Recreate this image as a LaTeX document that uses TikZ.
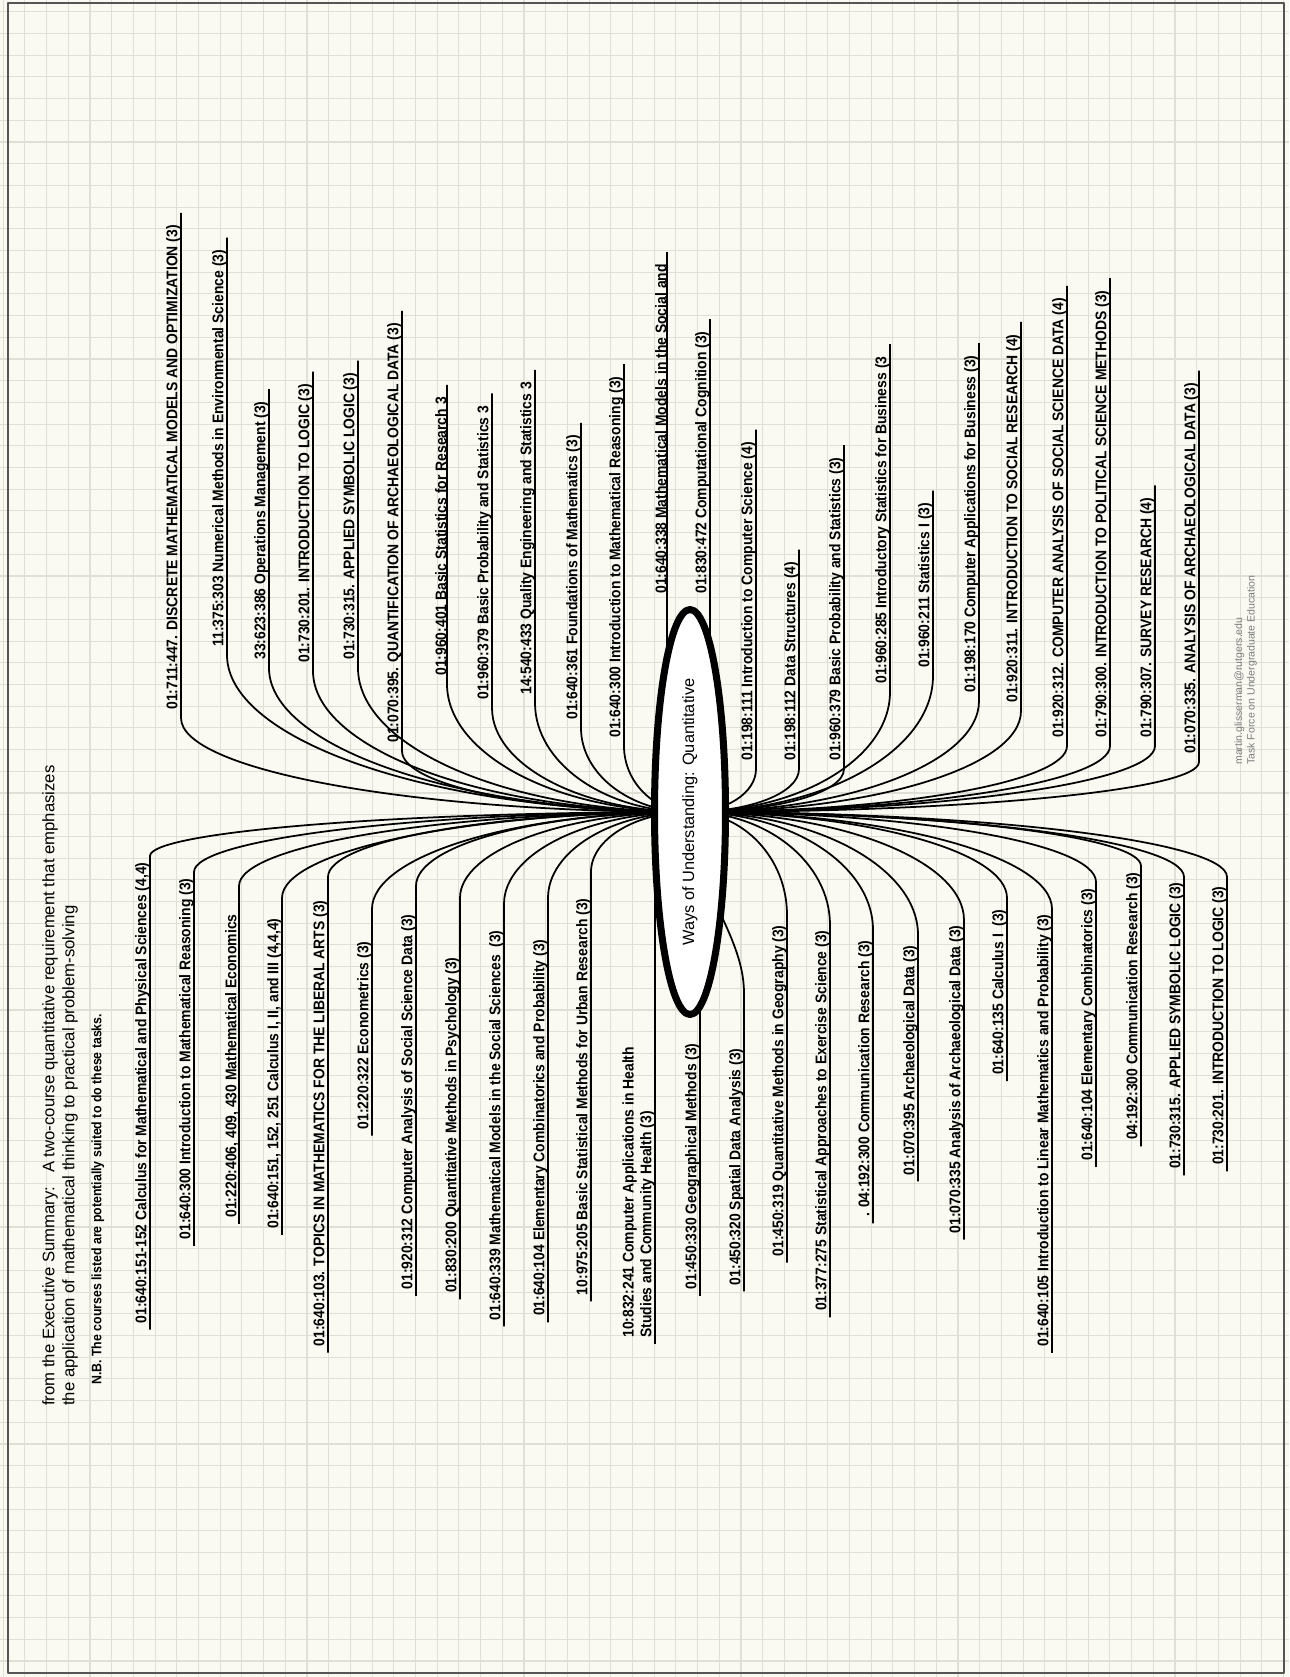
\documentclass[tikz,border=0pt]{standalone}
\usepackage{fontspec}
\setmainfont{Liberation Sans}
\newfontfamily\coursefont[FakeStretch=0.9]{Liberation Sans}
\usetikzlibrary{shapes.geometric,calc,backgrounds}
\definecolor{paper}{RGB}{250,250,242}
\definecolor{gridgray}{RGB}{222,224,214}
\definecolor{framegray}{RGB}{85,85,85}
\definecolor{creditgray}{RGB}{125,125,125}
\tikzset{
  course/.style={rotate=90, inner sep=0pt, font=\coursefont\bfseries\fontsize{8.8}{10.2}\selectfont},
  upcourse/.style={course, anchor=south west},
  downcourse/.style={course, anchor=south east},
  branch/.style={line width=1pt},
  hubnode/.style={ellipse, draw, line width=4pt, fill=white, rotate=90, inner sep=0pt,
    minimum width=8.1cm, minimum height=1.42cm, font=\fontsize{9.3}{11}\selectfont},
}
\begin{document}
\begin{tikzpicture}[x=0.02cm, y=-0.02cm, line join=round, line cap=round]
\useasboundingbox (0,0) rectangle (1289,1677);
\begin{scope}[on background layer]
  \fill[paper] (0,0) rectangle (1289,1677);
  \foreach \gx in {3.2,24.9,...,1289} \draw[gridgray, line width=0.6pt] (\gx,0) -- (\gx,1677);
  \foreach \gy in {11.8,33.5,...,1677} \draw[gridgray, line width=0.6pt] (0,\gy) -- (1289,\gy);
\end{scope}
\draw[framegray, line width=1.2pt] (8,3) rectangle (1284,1673);
% centre
\node[hubnode] (hub) at (690,812) {Ways of Understanding: Quantitative};
% header
\node[rotate=90, anchor=north west, inner sep=0pt, align=left, font=\fontsize{9.5}{11.4}\selectfont] (summary) at (42,1406)
  {from the Executive Summary:\ \ \ A two-course quantitative requirement that emphasizes\\the application of mathematical thinking to practical problem-solving};
\node[course, anchor=north west, font=\coursefont\bfseries\fontsize{7.8}{9}\selectfont] (nb) at (91,1385) {N.B. The courses listed are potentially suited to do these tasks.};
\node[rotate=90, anchor=north west, inner sep=0pt, align=left, text=creditgray, font=\fontsize{6}{7.2}\selectfont] (credit) at (1234,765)
  {martin.glisserman@rutgers.edu\\Task Force on Undergraduate Education};
% upper courses
\node[upcourse] (u1) at (181,710) {01:711:447. DISCRETE MATHEMATICAL MODELS AND OPTIMIZATION (3)};
\node[upcourse] (u2) at (227,647) {11:375:303 Numerical Methods in Environmental Science (3)};
\node[upcourse] (u3) at (269,660) {33:623:386 Operations Management (3)};
\node[upcourse] (u4) at (313,663) {01:730:201. INTRODUCTION TO LOGIC (3)};
\node[upcourse] (u5) at (358,660) {01:730:315. APPLIED SYMBOLIC LOGIC (3)};
\node[upcourse] (u6) at (402,743) {01:070:395. QUANTIFICATION OF ARCHAEOLOGICAL DATA (3)};
\node[upcourse] (u7) at (447,676) {01:960:401 Basic Statistics for Research 3};
\node[upcourse] (u8) at (492,700) {01:960:379 Basic Probability and Statistics 3};
\node[upcourse] (u9) at (535,695) {14:540:433 Quality Engineering and Statistics 3};
\node[upcourse] (u10) at (581,720) {01:640:361 Foundations of Mathematics (3)};
\node[upcourse] (u11) at (624,738) {01:640:300 Introduction to Mathematical Reasoning (3)};
\node[upcourse] (u12) at (667,594) {01:640:338 Mathematical Models in the Social and};
\node[upcourse] (u13) at (710,594) {01:830:472 Computational Cognition (3)};
\node[upcourse] (u14) at (756,761) {01:198:111 Introduction to Computer Science (4)};
\node[upcourse] (u15) at (799,761) {01:198:112 Data Structures (4)};
\node[upcourse] (u16) at (844,761) {01:960:379 Basic Probability and Statistics (3)};
\node[upcourse] (u17) at (890,684) {01:960:285 Introductory Statistics for Business (3};
\node[upcourse] (u18) at (933,668) {01:960:211 Statistics I (3)};
\node[upcourse] (u19) at (979,693) {01:198:170 Computer Applications for Business (3)};
\node[upcourse] (u20) at (1021,703) {01:920:311. INTRODUCTION TO SOCIAL RESEARCH (4)};
\node[upcourse] (u21) at (1067,738) {01:920:312. COMPUTER ANALYSIS OF SOCIAL SCIENCE DATA (4)};
\node[upcourse] (u22) at (1110,738) {01:790:300. INTRODUCTION TO POLITICAL SCIENCE METHODS (3)};
\node[upcourse] (u23) at (1155,738) {01:790:307. SURVEY RESEARCH (4)};
\node[upcourse] (u24) at (1199,754) {01:070:335. ANALYSIS OF ARCHAEOLOGICAL DATA (3)};
% lower courses
\node[downcourse] (l1) at (150,862) {01:640:151-152 Calculus for Mathematical and Physical Sciences (4,4)};
\node[downcourse] (l2) at (194,878) {01:640:300 Introduction to Mathematical Reasoning (3)};
\node[downcourse] (l3) at (239,914) {01:220:406, 409, 430 Mathematical Economics};
\node[downcourse] (l4) at (282,918) {01:640:151, 152, 251 Calculus I, II, and III (4,4,4)};
\node[downcourse] (l5) at (328,900) {01:640:103. TOPICS IN MATHEMATICS FOR THE LIBERAL ARTS (3)};
\node[downcourse] (l6) at (372,941) {01:220:322 Econometrics (3)};
\node[downcourse] (l7) at (416,914) {01:920:312 Computer Analysis of Social Science Data (3)};
\node[downcourse] (l8) at (460,957) {01:830:200 Quantitative Methods in Psychology (3)};
\node[downcourse] (l9) at (504,930) {01:640:339 Mathematical Models in the Social Sciences\ \ (3)};
\node[downcourse] (l10) at (548,939) {01:640:104 Elementary Combinatorics and Probability (3)};
\node[downcourse] (l11) at (591,898) {10:975:205 Basic Statistical Methods for Urban Research (3)};
\node[course, anchor=south west, align=left] (l12) at (655,1338) {10:832:241 Computer Applications in Health\\Studies and Community Health (3)};
\node[downcourse] (l13) at (700,1043) {01:450:330 Geographical Methods (3)};
\node[downcourse] (l14) at (744,1048) {01:450:320 Spatial Data Analysis (3)};
\node[downcourse] (l15) at (787,925) {01:450:319 Quantitative Methods in Geography (3)};
\node[downcourse] (l16) at (830,930) {01:377:275 Statistical Approaches to Exercise Science (3)};
\node[downcourse] (l17) at (873,940) {. 04:192:300 Communication Research (3)};
\node[downcourse] (l18) at (918,945) {01:070:395 Archaeological Data (3)};
\node[downcourse] (l19) at (964,925) {01:070:335 Analysis of Archaeological Data (3)};
\node[downcourse] (l20) at (1007,909) {01:640:135 Calculus I\ \ (3)};
\node[downcourse] (l21) at (1052,914) {01:640:105 Introduction to Linear Mathematics and Probability (3)};
\node[downcourse] (l22) at (1096,888) {01:640:104 Elementary Combinatorics (3)};
\node[downcourse] (l23) at (1141,872) {04:192:300 Communication Research (3)};
\node[downcourse] (l24) at (1184,882) {01:730:315. APPLIED SYMBOLIC LOGIC (3)};
\node[downcourse] (l25) at (1227,886) {01:730:201. INTRODUCTION TO LOGIC (3)};
% connectors
\begin{scope}[on background layer]
\draw[branch] (hub.center) .. controls +(-280,0) and +(0,52) .. ($(u1.south west)+(0,8)$) -- ($(u1.south east)+(0,-12)$);
\draw[branch] (hub.center) .. controls +(-255,0) and +(0,86) .. ($(u2.south west)+(0,8)$) -- ($(u2.south east)+(0,-12)$);
\draw[branch] (hub.center) .. controls +(-232,0) and +(0,79) .. ($(u3.south west)+(0,8)$) -- ($(u3.south east)+(0,-12)$);
\draw[branch] (hub.center) .. controls +(-207,0) and +(0,78) .. ($(u4.south west)+(0,8)$) -- ($(u4.south east)+(0,-12)$);
\draw[branch] (hub.center) .. controls +(-183,0) and +(0,79) .. ($(u5.south west)+(0,8)$) -- ($(u5.south east)+(0,-12)$);
\draw[branch] (hub.center) .. controls +(-158,0) and +(0,34) .. ($(u6.south west)+(0,8)$) -- ($(u6.south east)+(0,-12)$);
\draw[branch] (hub.center) .. controls +(-134,0) and +(0,70) .. ($(u7.south west)+(0,8)$) -- ($(u7.south east)+(0,-12)$);
\draw[branch] (hub.center) .. controls +(-109,0) and +(0,57) .. ($(u8.south west)+(0,8)$) -- ($(u8.south east)+(0,-12)$);
\draw[branch] (hub.center) .. controls +(-85,0) and +(0,60) .. ($(u9.south west)+(0,8)$) -- ($(u9.south east)+(0,-12)$);
\draw[branch] (hub.center) .. controls +(-60,0) and +(0,46) .. ($(u10.south west)+(0,8)$) -- ($(u10.south east)+(0,-12)$);
\draw[branch] (hub.center) .. controls +(-36,0) and +(0,36) .. ($(u11.south west)+(0,8)$) -- ($(u11.south east)+(0,-12)$);
\draw[branch] (u12.south west |- hub.center) -- ($(u12.south east)+(0,-12)$);
\draw[branch] (u13.south west |- hub.center) -- ($(u13.south east)+(0,-12)$);
\draw[branch] (hub.center) .. controls +(36,0) and +(0,24) .. ($(u14.south west)+(0,8)$) -- ($(u14.south east)+(0,-12)$);
\draw[branch] (hub.center) .. controls +(60,0) and +(0,24) .. ($(u15.south west)+(0,8)$) -- ($(u15.south east)+(0,-12)$);
\draw[branch] (hub.center) .. controls +(85,0) and +(0,24) .. ($(u16.south west)+(0,8)$) -- ($(u16.south east)+(0,-12)$);
\draw[branch] (hub.center) .. controls +(110,0) and +(0,66) .. ($(u17.south west)+(0,8)$) -- ($(u17.south east)+(0,-12)$);
\draw[branch] (hub.center) .. controls +(134,0) and +(0,75) .. ($(u18.south west)+(0,8)$) -- ($(u18.south east)+(0,-12)$);
\draw[branch] (hub.center) .. controls +(159,0) and +(0,61) .. ($(u19.south west)+(0,8)$) -- ($(u19.south east)+(0,-12)$);
\draw[branch] (hub.center) .. controls +(182,0) and +(0,56) .. ($(u20.south west)+(0,8)$) -- ($(u20.south east)+(0,-12)$);
\draw[branch] (hub.center) .. controls +(207,0) and +(0,36) .. ($(u21.south west)+(0,8)$) -- ($(u21.south east)+(0,-12)$);
\draw[branch] (hub.center) .. controls +(231,0) and +(0,36) .. ($(u22.south west)+(0,8)$) -- ($(u22.south east)+(0,-12)$);
\draw[branch] (hub.center) .. controls +(256,0) and +(0,36) .. ($(u23.south west)+(0,8)$) -- ($(u23.south east)+(0,-12)$);
\draw[branch] (hub.center) .. controls +(280,0) and +(0,28) .. ($(u24.south west)+(0,8)$) -- ($(u24.south east)+(0,-12)$);
\draw[branch] (hub.center) .. controls +(-297,0) and +(0,-24) .. ($(l1.south east)+(0,-6)$) -- ($(l1.south west)+(0,6)$);
\draw[branch] (hub.center) .. controls +(-273,0) and +(0,-33) .. ($(l2.south east)+(0,-6)$) -- ($(l2.south west)+(0,6)$);
\draw[branch] (hub.center) .. controls +(-248,0) and +(0,-41) .. ($(l3.south east)+(0,-28)$) -- ($(l3.south west)+(0,6)$);
\draw[branch] (hub.center) .. controls +(-224,0) and +(0,-47) .. ($(l4.south east)+(0,-20)$) -- ($(l4.south west)+(0,6)$);
\draw[branch] (hub.center) .. controls +(-199,0) and +(0,-36) .. ($(l5.south east)+(0,-23)$) -- ($(l5.south west)+(0,6)$);
\draw[branch] (hub.center) .. controls +(-175,0) and +(0,-53) .. ($(l6.south east)+(0,-32)$) -- ($(l6.south west)+(0,6)$);
\draw[branch] (hub.center) .. controls +(-151,0) and +(0,-41) .. ($(l7.south east)+(0,-28)$) -- ($(l7.south west)+(0,6)$);
\draw[branch] (hub.center) .. controls +(-127,0) and +(0,-47) .. ($(l8.south east)+(0,-59)$) -- ($(l8.south west)+(0,6)$);
\draw[branch] (hub.center) .. controls +(-102,0) and +(0,-51) .. ($(l9.south east)+(0,-26)$) -- ($(l9.south west)+(0,6)$);
\draw[branch] (hub.center) .. controls +(-78,0) and +(0,-47) .. ($(l10.south east)+(0,-41)$) -- ($(l10.south west)+(0,6)$);
\draw[branch] (hub.center) .. controls +(-54,0) and +(0,-33) .. ($(l11.south east)+(0,-26)$) -- ($(l11.south west)+(0,6)$);
\draw[branch] (l12.south west |- hub.center) -- ($(l12.south west)+(0,6)$);
\draw[branch] (l13.south west |- hub.center) -- ($(l13.south west)+(0,6)$);
\draw[branch] (hub.center) .. controls +(0,70) and +(0,-60) .. ($(l14.south east)+(0,-55)$) -- ($(l14.south west)+(0,6)$);
\draw[branch] (hub.center) .. controls +(53,0) and +(0,-57) .. ($(l15.south east)+(0,-10)$) -- ($(l15.south west)+(0,6)$);
\draw[branch] (hub.center) .. controls +(77,0) and +(0,-62) .. ($(l16.south east)+(0,-5)$) -- ($(l16.south west)+(0,6)$);
\draw[branch] (hub.center) .. controls +(101,0) and +(0,-65) .. ($(l17.south east)+(0,-10)$) -- ($(l17.south west)+(0,6)$);
\draw[branch] (hub.center) .. controls +(125,0) and +(0,-68) .. ($(l18.south east)+(0,-10)$) -- ($(l18.south west)+(0,6)$);
\draw[branch] (hub.center) .. controls +(151,0) and +(0,-59) .. ($(l19.south east)+(0,-5)$) -- ($(l19.south west)+(0,6)$);
\draw[branch] (hub.center) .. controls +(174,0) and +(0,-47) .. ($(l20.south east)+(0,-11)$) -- ($(l20.south west)+(0,6)$);
\draw[branch] (hub.center) .. controls +(199,0) and +(0,-53) .. ($(l21.south east)+(0,-5)$) -- ($(l21.south west)+(0,6)$);
\draw[branch] (hub.center) .. controls +(223,0) and +(0,-39) .. ($(l22.south east)+(0,-6)$) -- ($(l22.south west)+(0,6)$);
\draw[branch] (hub.center) .. controls +(248,0) and +(0,-30) .. ($(l23.south east)+(0,-6)$) -- ($(l23.south west)+(0,6)$);
\draw[branch] (hub.center) .. controls +(272,0) and +(0,-36) .. ($(l24.south east)+(0,-5)$) -- ($(l24.south west)+(0,6)$);
\draw[branch] (hub.center) .. controls +(295,0) and +(0,-36) .. ($(l25.south east)+(0,-9)$) -- ($(l25.south west)+(0,6)$);
\end{scope}
\end{tikzpicture}
\end{document}
